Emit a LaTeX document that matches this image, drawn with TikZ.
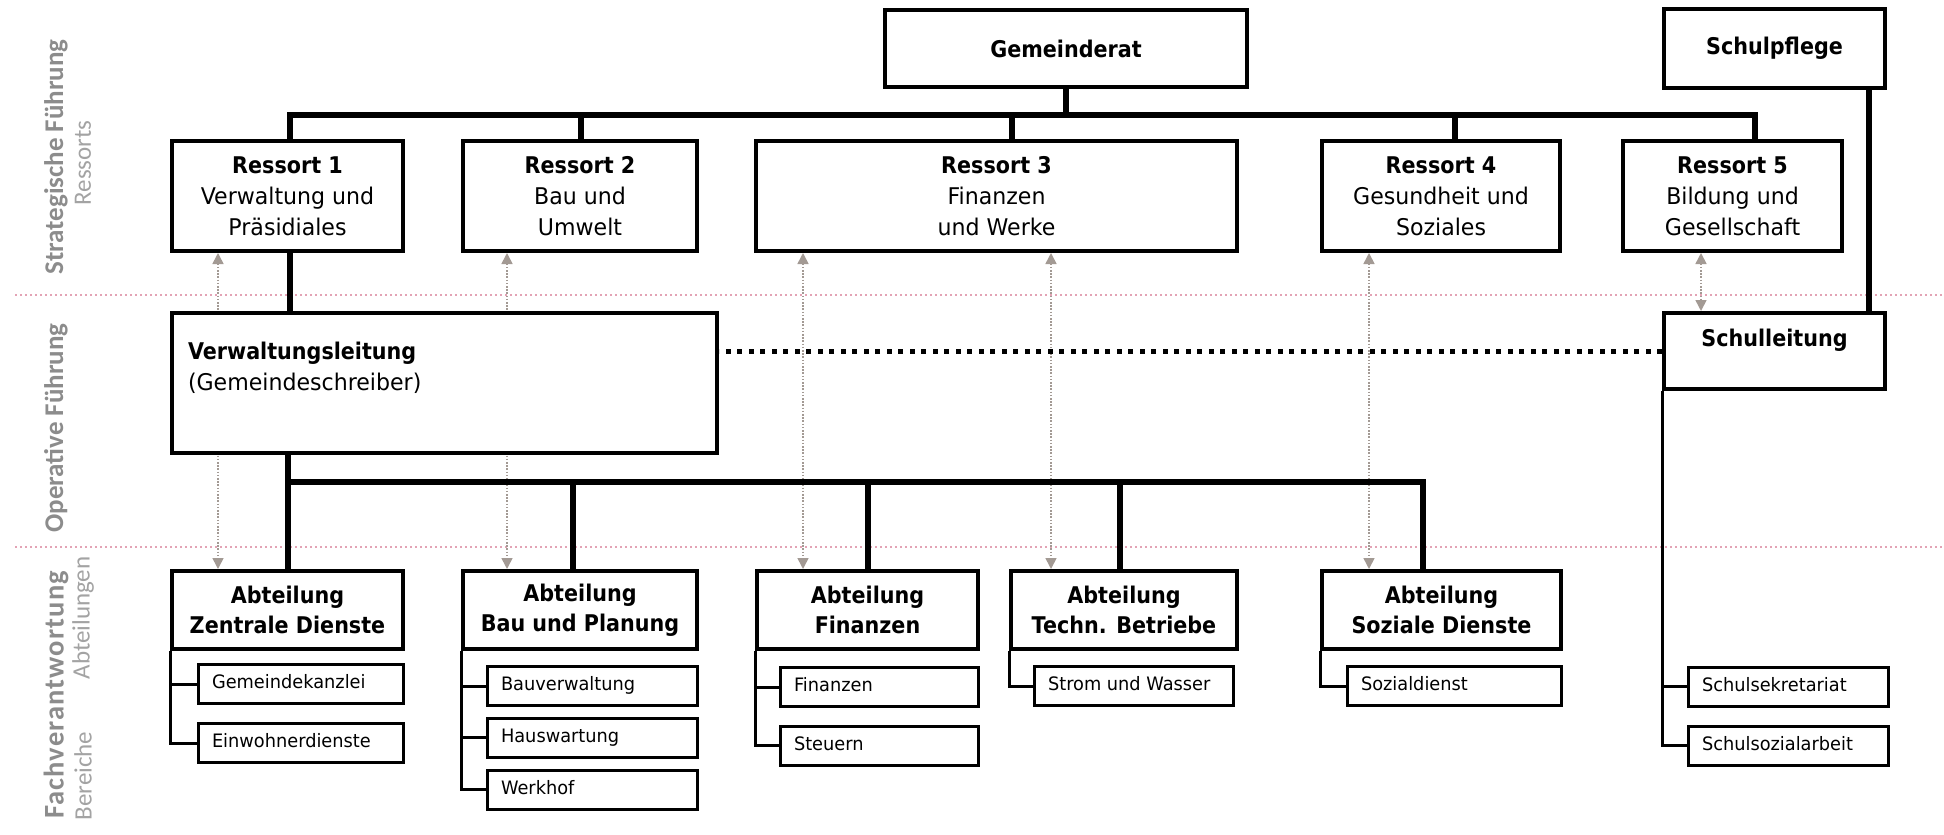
\documentclass[tikz,border=0pt]{standalone}
\usepackage{fontspec}
\setmainfont{DejaVu Sans}[FakeStretch=0.96,BoldFeatures={FakeStretch=0.9}]
\newfontfamily\lblfont{Carlito}
\usetikzlibrary{arrows.meta,backgrounds}
\definecolor{lblgray}{HTML}{8C8C8C}
\definecolor{lblgray2}{HTML}{A3A3A3}
\definecolor{arrgray}{HTML}{A39A94}
\definecolor{pinkdot}{HTML}{E3A3B5}
\newcommand\bigf{\fontsize{23}{31}\selectfont}
\newcommand\subf{\fontsize{18.5}{22}\selectfont}
\newcommand\subtxt[2]{\makebox[#1pt][l]{#2}}
\begin{document}
\begin{tikzpicture}[x=1pt,y=-1pt,
  box/.style={draw=black, line width=4pt, fill=white, inner sep=0pt, align=center, font=\bigf},
  ress/.style={box, minimum height=110},
  abt/.style={box, minimum height=78, font=\bfseries\fontsize{23}{30}\selectfont},
  sub/.style={draw=black, line width=3pt, fill=white, inner xsep=14pt, inner ysep=0pt,
     minimum height=39, font=\subf, text height=13.5pt, text depth=4pt},
  conn/.style={line width=6pt, line join=miter},
  br/.style={line width=3pt, line join=miter},
  garrow/.style={draw=arrgray, line width=1.6pt, dash pattern=on 1.6pt off 1.6pt,
     {Triangle[width=11pt,length=11pt]}-{Triangle[width=11pt,length=11pt]}},
  pinkline/.style={draw=pinkdot, line width=2pt, dash pattern=on 2pt off 3pt},
  tdot/.style={line width=5pt, dash pattern=on 5pt off 6.5pt},
  lblA/.style={rotate=90, text=lblgray, font=\lblfont\bfseries\fontsize{27}{30}\selectfont},
  lblB/.style={rotate=90, text=lblgray2, font=\lblfont\fontsize{25}{28}\selectfont}
]
\useasboundingbox (0,0) rectangle (1944,835);

% left labels
\node[lblA] (l1) at (56,157) {Strategische Führung};
\node[lblB] (l1b) at (83,163) {Ressorts};
\node[lblA] (l2) at (56,428) {Operative Führung};
\node[lblA, font=\lblfont\bfseries\fontsize{28.5}{30}\selectfont\addfontfeature{LetterSpace=4}] (l3) at (56,695) {Fachverantwortung};
\node[lblB] (l3a) at (83,618) {Abteilungen};
\node[lblB] (l3b) at (83,776) {Bereiche};

% top level
\node[box, font=\bfseries\bigf, minimum width=362, minimum height=77] (gr) at (1066,48.5) {Gemeinderat};
\node[box, font=\bfseries\bigf, minimum width=221, minimum height=79] (sp) at (1774.5,48.5) {Schulpflege};

% Ressorts
\node[ress, minimum width=231] (r1) at (287.5,196) {\textbf{Ressort 1}\\Verwaltung und\\Präsidiales};
\node[ress, minimum width=234] (r2) at (580,196) {\textbf{Ressort 2}\\Bau und\\Umwelt};
\node[ress, minimum width=481] (r3) at (996.5,196) {\textbf{Ressort 3}\\Finanzen\\und Werke};
\node[ress, minimum width=238] (r4) at (1441,196) {\textbf{Ressort 4}\\Gesundheit und\\Soziales};
\node[ress, minimum width=219] (r5) at (1732.5,196) {\textbf{Ressort 5}\\Bildung und\\Gesellschaft};

% operative
\node[box, align=left, inner xsep=16pt, text width=513, text height=46, text depth=94] (vl) at (444.5,383)
  {\textbf{Verwaltungsleitung}\\(Gemeindeschreiber)};
\node[box, font=\bfseries\bigf, minimum width=221, text height=33, text depth=43] (sl) at (1774.5,351) {Schulleitung};

% Abteilungen
\node[abt, minimum width=231] (zd) at (287.5,610) {Abteilung\\Zentrale Dienste};
\node[abt, minimum width=234] (bp) at (580,610) {Abteilung\\Bau und Planung};
\node[abt, minimum width=221] (fa) at (867.5,610) {Abteilung\\Finanzen};
\node[abt, minimum width=226] (tb) at (1124,610) {Abteilung\\Techn. Betriebe};
\node[abt, minimum width=239] (sz) at (1441.5,610) {Abteilung\\Soziale Dienste};

% Bereiche
\node[sub] (gk) at (300.5,684) {\subtxt{177}{Gemeindekanzlei}};
\node[sub] (ew) at (300.5,743) {\subtxt{177}{Einwohnerdienste}};
\node[sub] (bv) at (592,686) {\subtxt{182}{Bauverwaltung}};
\node[sub] (hw) at (592,737.5) {\subtxt{182}{Hauswartung}};
\node[sub] (wh) at (592,789.5) {\subtxt{182}{Werkhof}};
\node[sub] (fi) at (879,687) {\subtxt{170}{Finanzen}};
\node[sub] (st) at (879,745.5) {\subtxt{170}{Steuern}};
\node[sub] (sw) at (1133.5,686) {\subtxt{171}{Strom und Wasser}};
\node[sub] (sd) at (1454,686) {\subtxt{186}{Sozialdienst}};
\node[sub] (ssk) at (1788,686.5) {\subtxt{172}{Schulsekretariat}};
\node[sub] (ssa) at (1788,745.5) {\subtxt{172}{Schulsozialarbeit}};

\coordinate (topbar) at (0,115);
\coordinate (botbar) at (0,482);

\begin{pgfonlayer}{background}
  \draw[pinkline] (15,295) -- (1944,295);
  \draw[pinkline] (15,547) -- (1944,547);
  \draw[garrow] ([xshift=-69.5]r1.south) -- ([xshift=-69.5]zd.north);
  \draw[garrow] ([xshift=-73]r2.south) -- ([xshift=-73]bp.north);
  \draw[garrow] ([xshift=-193.5]r3.south) -- ([xshift=-64.5]fa.north);
  \draw[garrow] ([xshift=54.5]r3.south) -- ([xshift=-73]tb.north);
  \draw[garrow] ([xshift=-72]r4.south) -- ([xshift=-72.5]sz.north);
  \draw[garrow] ([xshift=-31.5]r5.south) -- ([xshift=-73.5]sl.north);
\end{pgfonlayer}

% top connectors
\draw[conn] ([xshift=2.5]r1.north) |- ([xshift=22.5]r5.north |- topbar) -- ([xshift=22.5]r5.north);
\draw[conn] (gr.south) -- (gr.south |- topbar);
\draw[conn] ([xshift=1]r2.north) -- ([xshift=1]r2.north |- topbar);
\draw[conn] ([xshift=15.5]r3.north) -- ([xshift=15.5]r3.north |- topbar);
\draw[conn] ([xshift=14]r4.north) -- ([xshift=14]r4.north |- topbar);
\draw[conn] ([xshift=2.5]r1.south) -- ([xshift=2.5]r1.south |- vl.north);
\draw[conn] ([xshift=94.5]sp.south) -- ([xshift=94.5]sl.north);

% bottom connectors
\draw[conn] (vl.south -| zd.north) -- (zd.north);
\draw[conn] (zd.north |- botbar) -| ([xshift=-18.5]sz.north);
\draw[conn] ([xshift=-7]bp.north) -- ([xshift=-7]bp.north |- botbar);
\draw[conn] (fa.north) -- (fa.north |- botbar);
\draw[conn] ([xshift=-4]tb.north) -- ([xshift=-4]tb.north |- botbar);

% dotted link
\draw[tdot] (sl.west) -- (sl.west -| vl.east);

% brackets
\draw[br] (zd.south west) |- (gk.west);
\draw[br] (zd.south west) |- (ew.west);
\draw[br] (bp.south west) |- (bv.west);
\draw[br] (bp.south west) |- (hw.west);
\draw[br] (bp.south west) |- (wh.west);
\draw[br] (fa.south west) |- (fi.west);
\draw[br] (fa.south west) |- (st.west);
\draw[br] (tb.south west) |- (sw.west);
\draw[br] (sz.south west) |- (sd.west);
\draw[br] (sl.south west) |- (ssk.west);
\draw[br] (sl.south west) |- (ssa.west);
\end{tikzpicture}
\end{document}
